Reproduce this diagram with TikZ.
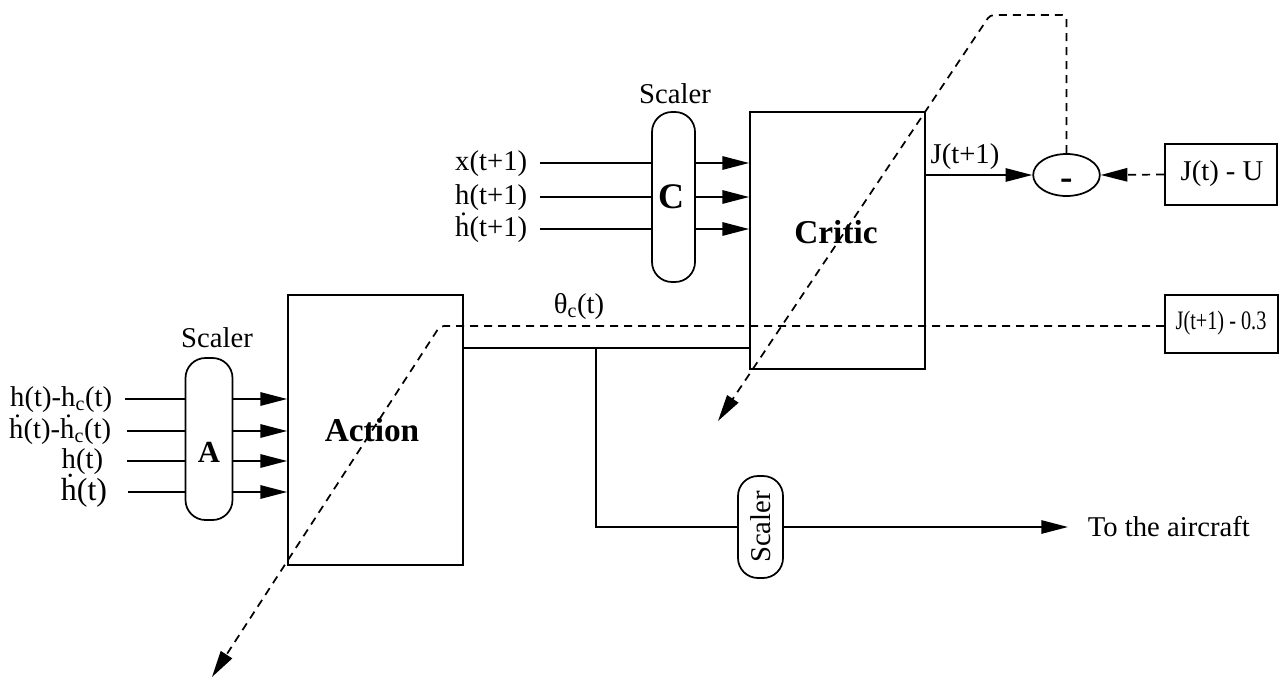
\documentclass[tikz,border=0pt]{standalone}
\usepackage{fontspec}
\usepackage{graphicx}
\setmainfont{Liberation Serif}
\usetikzlibrary{arrows.meta,shapes.geometric}
\begin{document}
\begin{tikzpicture}[x=0.75pt,y=-0.75pt,
  line width=1.3pt,
  blk/.style={draw,minimum width=131.25pt,inner sep=0pt},
  pill/.style={draw,rounded corners=15pt,inner sep=0pt},
  box/.style={draw,inner sep=0pt},
  arr/.style={-{Triangle[length=20pt,width=10pt]}},
  dsh/.style={dash pattern=on 6pt off 4.5pt},
  lbl/.style={font=\fontsize{21.5}{24}\selectfont,inner sep=0pt},
  big/.style={font=\bfseries\fontsize{25}{28}\selectfont,inner sep=0pt}]
\useasboundingbox (0,0) rectangle (1281,678);

% main blocks
\node[blk,minimum height=202.5pt] (action) at (375.5,430) {};
\node[big] (actionlbl) at (372,430) {Action};
\node[blk,minimum height=192.75pt] (critic) at (837.5,240.5) {};
\node[big] (criticlbl) at (836,232) {Critic};

% scalers
\node[pill,minimum width=35.25pt,minimum height=121.5pt] (pillA) at (209,439) {};
\node[lbl,font=\bfseries\fontsize{23}{26}\selectfont] (Alet) at (209,452) {A};
\node[lbl] (scA) at (217,338) {Scaler};
\node[pill,minimum width=32.25pt,minimum height=127.5pt] (pillC) at (673.5,197) {};
\node[lbl,font=\bfseries\fontsize{27}{29}\selectfont] (Clet) at (671,197) {C};
\node[lbl] (scC) at (675,94) {Scaler};
\node[pill,minimum width=33.75pt,minimum height=76.5pt] (pillS) at (760.5,527) {};
\node[lbl,rotate=90] (scS) at (pillS) {Scaler};

% right side
\node[draw,ellipse,minimum width=50pt,minimum height=31.5pt,inner sep=0pt] (ell) at (1066.5,175) {};
\node[lbl,anchor=base,font=\bfseries\fontsize{28}{30}\selectfont] (minus) at (1066.5,189) {-};
\node[box,minimum width=84pt,minimum height=45.75pt] (JU) at (1221,174.5) {};
\node[lbl] (JUt) at (1222,174) {J(t) - U};
\node[box,minimum width=84.75pt,minimum height=44pt] (J03) at (1221.5,324) {};
\node[lbl,font=\fontsize{20}{22}\selectfont] (J03t) at (1221,323) {\scalebox{0.76}[1]{J(t+1) - 0.3}};

% A inputs
\coordinate (a1) at (125,399);
\coordinate (a2) at (127,431);
\coordinate (a3) at (127,461);
\coordinate (a4) at (128,492);
\node[lbl,anchor=base east] (la1) at (113,406) {h(t)-h\textsubscript{c}(t)};
\node[lbl,anchor=base east] (la2) at (112,438) {\.{h}(t)-\.{h}\textsubscript{c}(t)};
\node[lbl,anchor=base east] (la3) at (104,468) {h(t)};
\node[lbl,anchor=base east,font=\fontsize{24}{26}\selectfont] (la4) at (108,500) {\.{h}(t)};
\foreach \c in {a1,a2,a3,a4}{
  \draw (\c) -- (pillA.west |- \c);
  \draw[arr] (pillA.east |- \c) -- (action.west |- \c);
}

% C inputs
\coordinate (c1) at (540,163);
\coordinate (c2) at (540,197);
\coordinate (c3) at (540,229);
\node[lbl,anchor=base east] (lc1) at (528,170) {x(t+1)};
\node[lbl,anchor=base east] (lc2) at (528,204) {h(t+1)};
\node[lbl,anchor=base east] (lc3) at (528,236) {\.{h}(t+1)};
\foreach \c in {c1,c2,c3}{
  \draw (\c) -- (pillC.west |- \c);
  \draw[arr] (pillC.east |- \c) -- (critic.west |- \c);
}

% critic output
\draw[arr] (critic.east |- ell) -- (ell.west);
\node[lbl,anchor=base] (Jlbl) at (965,163) {J(t+1)};
\draw[arr,dsh] (JU.west) -- (ell.east);

% action output
\coordinate (ao) at (463,348);
\coordinate (br) at (596,348);
\draw (action.east |- ao) -- (critic.west |- ao);
\draw (br) |- (pillS.west);
\coordinate (tip) at (1068,527);
\draw[arr] (pillS.east) -- (tip);
\node[lbl,anchor=west,font=\fontsize{21.5}{24}\selectfont] (air) at (1087,527) {To the aircraft};
\node[lbl,anchor=base] (theta) at (579,313) {θ\textsubscript{c}(t)};

% dashed training signals
\coordinate (fb1) at (1066.5,15);
\coordinate (fb2) at (990,15);
\coordinate (fbtip) at (718,421);
\draw[arr,dsh,rounded corners=3pt] (ell.north) -- (fb1) -- (fb2) -- (fbtip);
\coordinate (ab1) at (440,326);
\coordinate (abtip) at (212,677);
\draw[arr,dsh,rounded corners=3pt] (J03.west |- ab1) -- (ab1) -- (abtip);
\end{tikzpicture}
\end{document}
